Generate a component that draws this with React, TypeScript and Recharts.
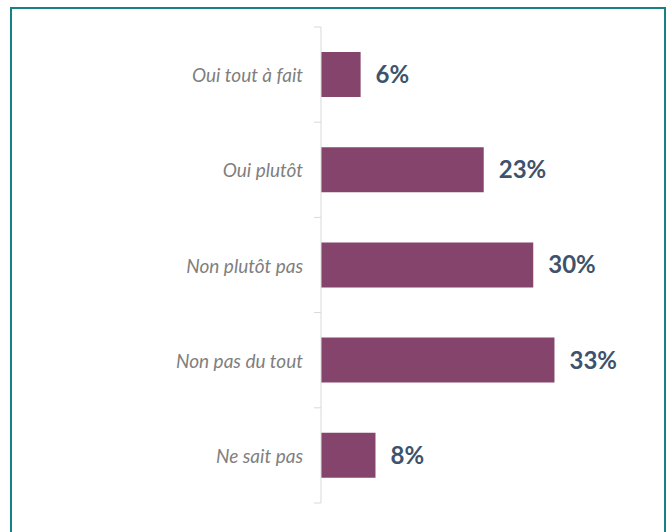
import React from "react";
import { BarChart, Bar, XAxis, YAxis, LabelList } from "recharts";

const categories = ["Oui tout à fait", "Oui plutôt", "Non plutôt pas", "Non pas du tout", "Ne sait pas"];
const values = [5.6, 23, 30, 33, 7.7];
const valueLabels = ["6%", "23%", "30%", "33%", "8%"];

const data = categories.map((c, i) => ({ name: c, value: values[i], label: valueLabels[i] }));

const BAND = (532 - 26 - 30) / categories.length;

const CategoryTick = (props: any) => {
  const { x, y, payload, index } = props;
  const ax = x + 8;
  return (
    <g>
      <line x1={ax - 7} x2={ax} y1={y - BAND / 2} y2={y - BAND / 2} stroke="#d9d9d9" strokeWidth={1} />
      {index === categories.length - 1 && (
        <line x1={ax - 7} x2={ax} y1={y + BAND / 2} y2={y + BAND / 2} stroke="#d9d9d9" strokeWidth={1} />
      )}
      <text
        x={ax - 18}
        y={y + 1}
        dy="0.35em"
        textAnchor="end"
        fill="#7f7f7f"
        fontStyle="italic"
        fontSize={19}
        fontFamily="Lato, 'Open Sans', sans-serif"
      >
        {payload.value}
      </text>
    </g>
  );
};

export default function App() {
  return (
    <div style={{ position: "absolute", left: 0, top: 0, width: 668, height: 532, background: "#fff", overflow: "hidden" }}>
      <div
        style={{
          position: "absolute",
          left: 10,
          top: 7,
          width: 656,
          height: 560,
          border: "2px solid #17818a",
          boxSizing: "border-box",
        }}
      />
      <div style={{ position: "absolute", left: 0, top: 0 }}>
        <BarChart
          width={668}
          height={532}
          data={data}
          layout="vertical"
          margin={{ top: 27, right: 64, bottom: 29, left: 0 }}
        >
          <XAxis type="number" domain={[0, 40]} hide />
          <YAxis
            type="category"
            dataKey="name"
            width={321}
            axisLine={{ stroke: "#d9d9d9", strokeWidth: 1 }}
            tickLine={false}
            tick={<CategoryTick />}
            interval={0}
          />
          <Bar dataKey="value" fill="#84446b" barSize={45} isAnimationActive={false}>
            <LabelList
              dataKey="label"
              position="right"
              offset={15}
              fill="#3e536b"
              fontSize={24}
              fontWeight="bold"
              fontFamily="Lato, 'Open Sans', sans-serif"
            />
          </Bar>
        </BarChart>
      </div>
    </div>
  );
}
